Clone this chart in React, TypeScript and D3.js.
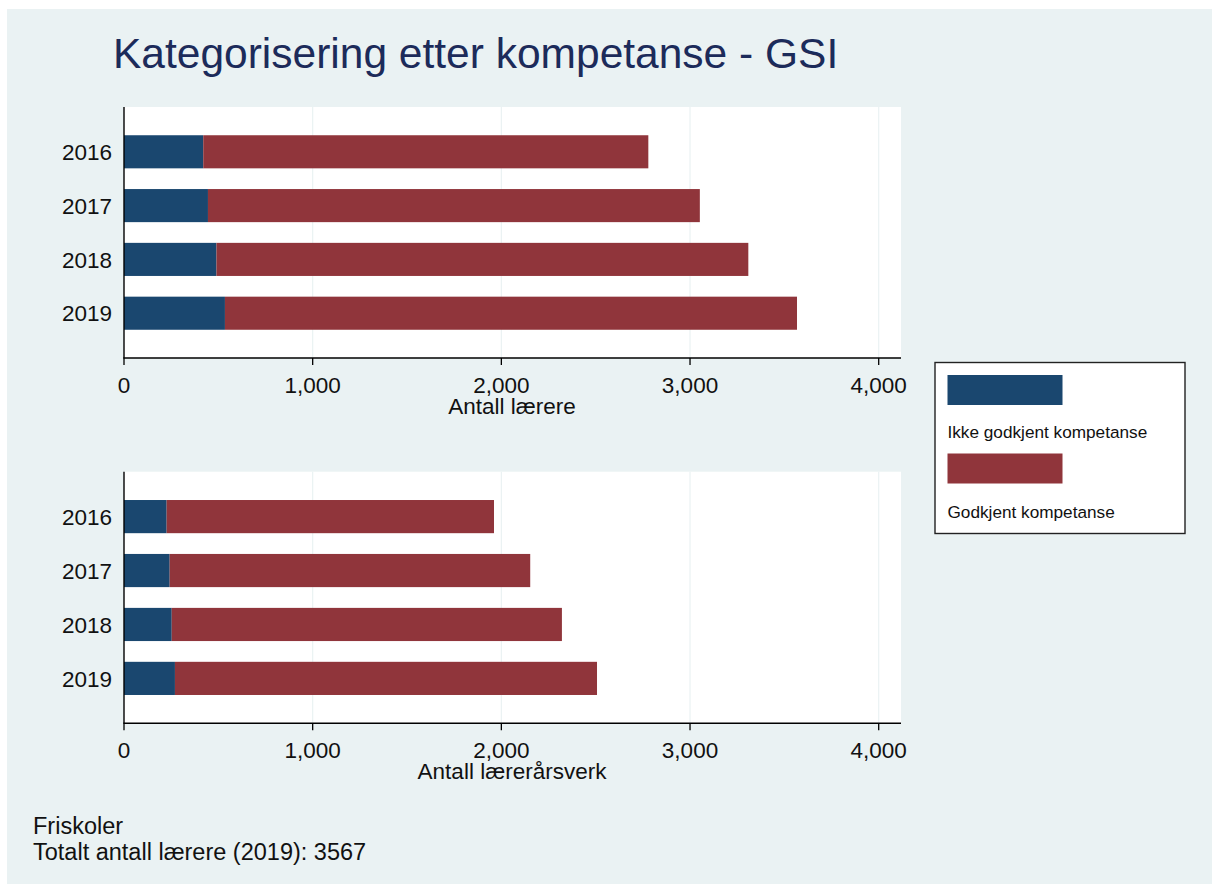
import React from "react";
import * as d3 from "d3";

const years = ["2016", "2017", "2018", "2019"];
const teachersNotApproved = [420, 445, 490, 535];
const teachersApproved = [2359, 2607, 2819, 3032];
const fteNotApproved = [226, 242, 253, 270];
const fteApproved = [1735, 1911, 2068, 2237];
const xTicks = [0, 1000, 2000, 3000, 4000];
const seriesNames = ["Ikke godkjent kompetanse", "Godkjent kompetanse"];
const colors = ["#1a476f", "#90353b"];

const W = 1212;
const H = 884;
const FONT = "'Liberation Sans', Arial, sans-serif";

type PanelProps = {
  top: number;
  bottom: number;
  a: number[];
  b: number[];
  title: string;
};

function Panel({ top, bottom, a, b, title }: PanelProps) {
  const x = d3.scaleLinear().domain([0, 4000]).range([124, 878.7]);
  const y = d3
    .scaleBand<string>()
    .domain(years)
    .range([top, bottom])
    .paddingInner(0.385)
    .paddingOuter(0.525);
  const fmt = d3.format(",");
  return (
    <g>
      <rect x={124} y={top} width={901 - 124} height={bottom - top} fill="#ffffff" />
      {xTicks.slice(1).map((t) => (
        <line key={"g" + t} x1={x(t)} x2={x(t)} y1={top} y2={bottom} stroke="#eaf2f3" strokeWidth={1.2} />
      ))}
      {years.map((yr, i) => (
        <g key={yr}>
          <rect x={x(0)} y={y(yr)!} width={x(a[i]) - x(0)} height={y.bandwidth()} fill={colors[0]} />
          <rect
            x={x(a[i])}
            y={y(yr)!}
            width={x(a[i] + b[i]) - x(a[i])}
            height={y.bandwidth()}
            fill={colors[1]}
          />
          <text
            x={112}
            y={y(yr)! + y.bandwidth() / 2}
            dy="0.36em"
            textAnchor="end"
            fontSize={22.5}
            fontFamily={FONT}
            fill="#111"
          >
            {yr}
          </text>
        </g>
      ))}
      <line x1={124} x2={124} y1={top} y2={bottom} stroke="#000" strokeWidth={1.4} />
      <line x1={123.3} x2={901} y1={bottom} y2={bottom} stroke="#000" strokeWidth={1.4} />
      {xTicks.map((t) => (
        <g key={"t" + t}>
          <line x1={x(t)} x2={x(t)} y1={bottom} y2={bottom + 7} stroke="#000" strokeWidth={1.3} />
          <text x={x(t)} y={bottom + 35} textAnchor="middle" fontSize={22.5} fontFamily={FONT} fill="#111">
            {fmt(t)}
          </text>
        </g>
      ))}
      <text x={512} y={bottom + 56} textAnchor="middle" fontSize={22.5} fontFamily={FONT} fill="#111">
        {title}
      </text>
    </g>
  );
}

export default function App() {
  return (
    <svg
      width={W}
      height={H}
      style={{ position: "absolute", left: 0, top: 0, display: "block" }}
      xmlns="http://www.w3.org/2000/svg"
    >
      <rect x={0} y={0} width={W} height={H} fill="#ffffff" />
      <rect x={7} y={9} width={W - 7} height={H - 9} fill="#eaf2f3" />
      <text x={113} y={68} fontSize={42.5} fontFamily={FONT} fill="#1c2b5a">
        Kategorisering etter kompetanse - GSI
      </text>
      <Panel top={107} bottom={358} a={teachersNotApproved} b={teachersApproved} title="Antall lærere" />
      <Panel top={471.7} bottom={723.3} a={fteNotApproved} b={fteApproved} title="Antall lærerårsverk" />
      <g>
        <rect x={935} y={362.5} width={250} height={171} fill="#ffffff" stroke="#222" strokeWidth={1.4} />
        {seriesNames.map((s, i) => (
          <g key={s}>
            <rect x={947.5} y={375 + i * 78.5} width={115} height={30} fill={colors[i]} />
            <text x={947.5} y={437.5 + i * 80.8} fontSize={17.2} fontFamily={FONT} fill="#111">
              {s}
            </text>
          </g>
        ))}
      </g>
      <text x={33} y={834} fontSize={23.5} fontFamily={FONT} fill="#111">
        Friskoler
      </text>
      <text x={33} y={860} fontSize={23.5} fontFamily={FONT} fill="#111">
        Totalt antall lærere (2019): 3567
      </text>
    </svg>
  );
}
